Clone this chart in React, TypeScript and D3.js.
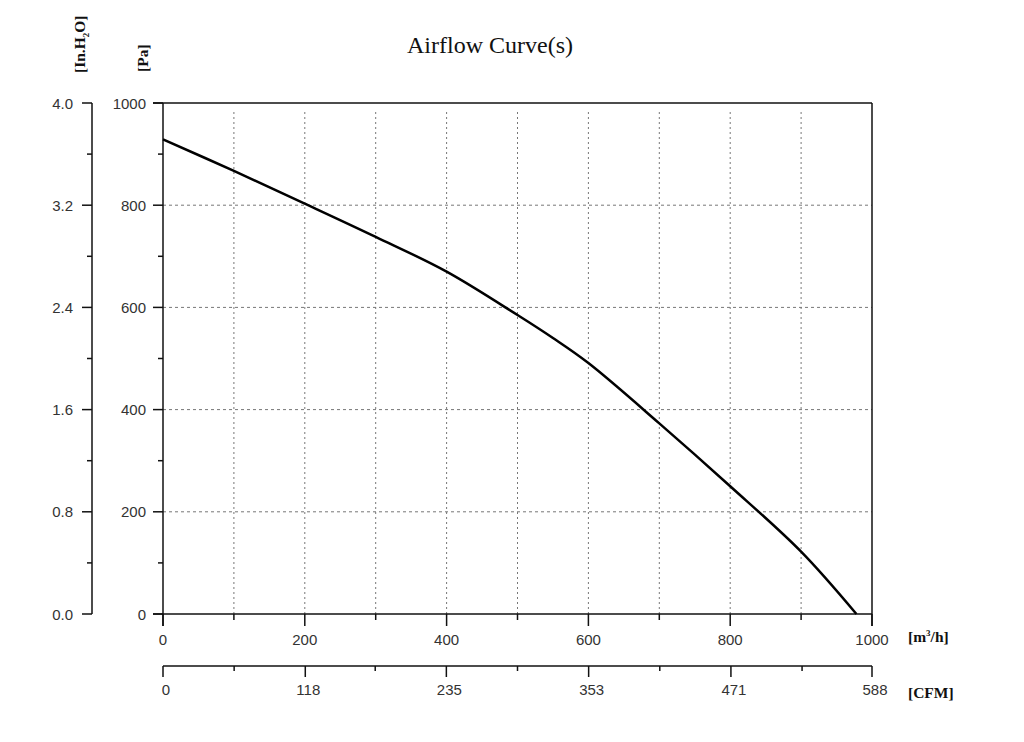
import React from "react";
import * as d3 from "d3";

const flowValues = [0, 100, 200, 300, 400, 500, 550, 600, 700, 800, 900, 978];
const pressureValues = [929, 867, 803, 738, 670, 585, 540, 491, 373, 250, 122, 0];

const flowTicks = [0, 200, 400, 600, 800, 1000];
const flowMinorTicks = [100, 300, 500, 700, 900];
const paTicks = [0, 200, 400, 600, 800, 1000];
const paMinorTicks = [100, 300, 500, 700, 900];
const inchTicks = [0, 0.8, 1.6, 2.4, 3.2, 4.0];
const inchMinorTicks = [0.4, 1.2, 2.0, 2.8, 3.6];
const cfmTicks = [0, 118, 235, 353, 471, 588];
const cfmMinorTicks = [59, 176, 294, 412, 530];

const W = 1024;
const H = 742;
const L = 163, R = 872, T = 103, B = 614;

export default function App() {
  const x = d3.scaleLinear().domain([0, 1000]).range([L, R]);
  const y = d3.scaleLinear().domain([0, 1000]).range([B, T]);
  const yIn = d3.scaleLinear().domain([0, 4]).range([B, T]);
  const xCfm = d3.scaleLinear().domain([0, 588]).range([L, R]);
  const cfmY = 666;
  const inX = 92;

  const pts = flowValues.map((f, i) => [f, pressureValues[i]] as [number, number]);
  const line = d3.line<[number, number]>().x(d => x(d[0])).y(d => y(d[1])).curve(d3.curveCatmullRom.alpha(0.5));

  const tickFont = { fontFamily: "'Liberation Sans', Arial, sans-serif", fontSize: 15, fill: "#333" };
  const unitFont = { fontFamily: "'Liberation Serif', 'Times New Roman', serif", fontSize: 15.5, fontWeight: 700, fill: "#111" };

  return (
    <svg width={W} height={H} style={{ position: "absolute", left: 0, top: 0, display: "block", background: "#fff" }}>
      <rect x={0} y={0} width={W} height={H} fill="#fff" />
      <text x={490} y={53} textAnchor="middle" fontFamily="'Liberation Serif', 'Times New Roman', serif" fontSize={24} fill="#111">Airflow Curve(s)</text>

      {/* grid */}
      {flowMinorTicks.concat(flowTicks.slice(1, -1)).map(v => (
        <line key={"gx" + v} x1={x(v)} x2={x(v)} y1={B} y2={T + 6} stroke="#777" strokeWidth={1} strokeDasharray="2,3" />
      ))}
      {paTicks.slice(1, -1).map(v => (
        <line key={"gy" + v} x1={L} x2={R} y1={y(v)} y2={y(v)} stroke="#777" strokeWidth={1} strokeDasharray="3,3" />
      ))}

      {/* frame */}
      <line x1={L - 10} x2={R} y1={T} y2={T} stroke="#111" strokeWidth={1.5} />
      <line x1={R} x2={R} y1={T} y2={B + 12} stroke="#111" strokeWidth={1.5} />
      <line x1={L} x2={L} y1={T} y2={B + 12} stroke="#111" strokeWidth={1.5} />
      <line x1={L - 10} x2={R} y1={B} y2={B} stroke="#111" strokeWidth={1.5} />

      {/* Pa axis */}
      {paTicks.map(v => (
        <g key={"pa" + v}>
          <line x1={L - 10} x2={L} y1={y(v)} y2={y(v)} stroke="#111" strokeWidth={1.5} />
          <text x={146} y={y(v) + 5.5} textAnchor="end" {...tickFont}>{v}</text>
        </g>
      ))}
      {paMinorTicks.map(v => (
        <line key={"pam" + v} x1={L - 5} x2={L} y1={y(v)} y2={y(v)} stroke="#111" strokeWidth={1.5} />
      ))}

      {/* In.H2O axis */}
      <line x1={inX} x2={inX} y1={T} y2={B} stroke="#111" strokeWidth={1.5} />
      {inchTicks.map(v => (
        <g key={"in" + v}>
          <line x1={inX - 10} x2={inX} y1={yIn(v)} y2={yIn(v)} stroke="#111" strokeWidth={1.5} />
          <text x={73} y={yIn(v) + 5.5} textAnchor="end" {...tickFont}>{v.toFixed(1)}</text>
        </g>
      ))}
      {inchMinorTicks.map(v => (
        <line key={"inm" + v} x1={inX - 5} x2={inX} y1={yIn(v)} y2={yIn(v)} stroke="#111" strokeWidth={1.5} />
      ))}

      {/* flow axis ticks */}
      {flowTicks.map(v => (
        <g key={"fx" + v}>
          <line x1={x(v)} x2={x(v)} y1={B} y2={B + 12} stroke="#111" strokeWidth={1.5} />
          <text x={x(v)} y={645} textAnchor="middle" {...tickFont}>{v}</text>
        </g>
      ))}
      {flowMinorTicks.map(v => (
        <line key={"fxm" + v} x1={x(v)} x2={x(v)} y1={B} y2={B + 6} stroke="#111" strokeWidth={1.5} />
      ))}

      {/* CFM axis */}
      <line x1={L} x2={R} y1={cfmY} y2={cfmY} stroke="#111" strokeWidth={1.5} />
      {cfmTicks.map(v => (
        <g key={"cf" + v}>
          <line x1={xCfm(v)} x2={xCfm(v)} y1={cfmY} y2={cfmY + 11} stroke="#111" strokeWidth={1.5} />
          <text x={xCfm(v) + 3} y={695} textAnchor="middle" {...tickFont}>{v}</text>
        </g>
      ))}
      {cfmMinorTicks.map(v => (
        <line key={"cfm" + v} x1={xCfm(v)} x2={xCfm(v)} y1={cfmY} y2={cfmY + 5} stroke="#111" strokeWidth={1.5} />
      ))}

      {/* unit labels */}
      <text x={908} y={642} {...unitFont}>[m<tspan dy={-6} fontSize={9}>3</tspan><tspan dy={6}>/h]</tspan></text>
      <text x={908} y={698} {...unitFont}>[CFM]</text>
      <text transform="translate(85,73) rotate(-90)" {...unitFont}>[In.H<tspan dy={4} fontSize={9}>2</tspan><tspan dy={-4}>O]</tspan></text>
      <text transform="translate(148,72) rotate(-90)" {...unitFont}>[Pa]</text>

      {/* curve */}
      <path d={line(pts) || ""} fill="none" stroke="#000" strokeWidth={2.5} />
    </svg>
  );
}
